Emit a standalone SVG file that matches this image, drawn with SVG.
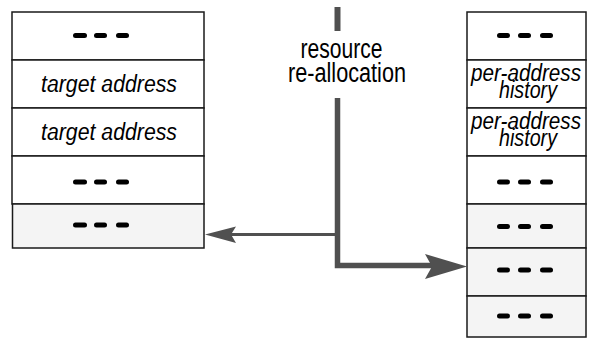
<svg xmlns="http://www.w3.org/2000/svg" width="592" height="339" viewBox="0 0 592 339">
  <style>
    .cell { fill: #ffffff; stroke: #1a1a1a; stroke-width: 1.5; }
    .cell.shade { fill: #f4f4f4; }
    .dash { fill: #000000; }
    .lbl { font-family: "Liberation Sans", Arial, sans-serif; font-style: italic; font-size: 23px; fill: #000; }
    .note { font-family: "Liberation Sans", Arial, sans-serif; font-size: 27px; fill: #000; }
    .wire { fill: none; stroke: #505050; stroke-linejoin: miter; stroke-linecap: butt; }
    .head { fill: #505050; }
  </style>
  <defs>
    <g id="dots-l">
      <rect class="dash" x="73" y="-2.5" width="14" height="5" rx="2.5"/>
      <rect class="dash" x="94" y="-2.5" width="13" height="5" rx="2.5"/>
      <rect class="dash" x="116" y="-2.5" width="13" height="5" rx="2.5"/>
    </g>
    <g id="dots-r">
      <rect class="dash" x="497" y="-2.5" width="13" height="5" rx="2.5"/>
      <rect class="dash" x="518" y="-2.5" width="13" height="5" rx="2.5"/>
      <rect class="dash" x="540" y="-2.5" width="13" height="5" rx="2.5"/>
    </g>
  </defs>

  <!-- left table: target addresses -->
  <g id="left-row-1">
    <rect class="cell" x="12" y="12" width="192" height="48"/>
    <use href="#dots-l" y="35.5"/>
  </g>
  <g id="left-row-2">
    <rect class="cell" x="12" y="60" width="192" height="48"/>
    <text class="lbl" x="41" y="92" textLength="136" lengthAdjust="spacingAndGlyphs">target address</text>
  </g>
  <g id="left-row-3">
    <rect class="cell" x="12" y="108" width="192" height="48"/>
    <text class="lbl" x="41" y="140" textLength="136" lengthAdjust="spacingAndGlyphs">target address</text>
  </g>
  <g id="left-row-4">
    <rect class="cell" x="12" y="156" width="192" height="48"/>
    <use href="#dots-l" y="182"/>
  </g>
  <g id="left-row-5">
    <rect class="cell shade" x="12.5" y="204" width="191.5" height="44"/>
    <use href="#dots-l" y="225"/>
  </g>

  <!-- right table: per-address history -->
  <g id="right-row-1">
    <rect class="cell" x="467" y="12" width="119" height="48"/>
    <use href="#dots-r" y="35.5"/>
  </g>
  <g id="right-row-2">
    <rect class="cell" x="467" y="60" width="119" height="48"/>
    <text class="lbl" x="471" y="80.5" textLength="110" lengthAdjust="spacingAndGlyphs">per-address</text>
    <text class="lbl" x="499" y="97.5" textLength="58" lengthAdjust="spacingAndGlyphs">history</text>
  </g>
  <g id="right-row-3">
    <rect class="cell" x="467" y="108" width="119" height="48"/>
    <text class="lbl" x="471" y="128.5" textLength="110" lengthAdjust="spacingAndGlyphs">per-address</text>
    <text class="lbl" x="499" y="145.5" textLength="58" lengthAdjust="spacingAndGlyphs">history</text>
  </g>
  <g id="right-row-4">
    <rect class="cell" x="467" y="156" width="119" height="48"/>
    <use href="#dots-r" y="182"/>
  </g>
  <g id="right-row-5">
    <rect class="cell shade" x="467" y="204" width="119" height="44"/>
    <use href="#dots-r" y="226.5"/>
  </g>
  <g id="right-row-6">
    <rect class="cell shade" x="467" y="248" width="119" height="48"/>
    <use href="#dots-r" y="270"/>
  </g>
  <g id="right-row-7">
    <rect class="cell shade" x="467" y="296" width="119" height="41"/>
    <use href="#dots-r" y="316"/>
  </g>

  <!-- re-allocation label -->
  <g id="realloc-label">
    <text class="note" x="300.5" y="57.5" textLength="82" lengthAdjust="spacingAndGlyphs">resource</text>
    <text class="note" x="288" y="81.5" textLength="118" lengthAdjust="spacingAndGlyphs">re-allocation</text>
  </g>

  <!-- connectors -->
  <g id="connectors">
    <line class="wire" x1="337.5" y1="7" x2="337.5" y2="31" stroke-width="6"/>
    <path class="wire" d="M337.5 98 V265.5 H432" stroke-width="5.5"/>
    <line class="wire" x1="337.5" y1="234.5" x2="228" y2="234.5" stroke-width="3"/>
    <polygon class="head" points="205,234.5 236,226.5 231,234.5 236,243"/>
    <polygon class="head" points="467,266.5 425,254 432,266.5 425,279"/>
  </g>
</svg>
